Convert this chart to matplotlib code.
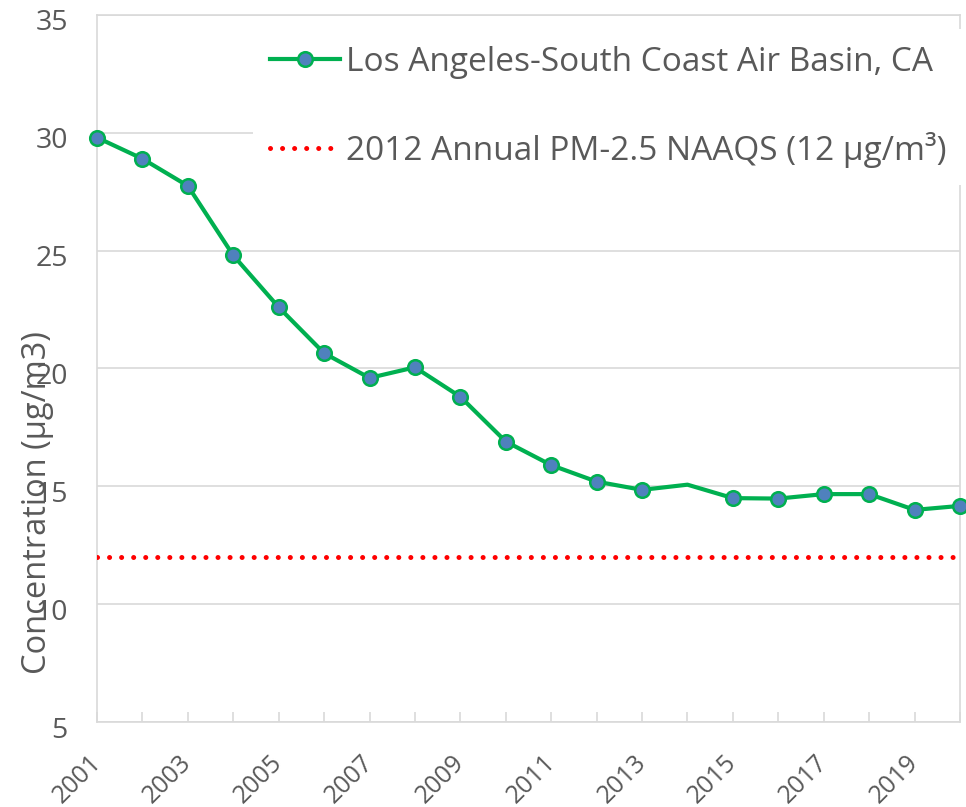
import numpy as np
import matplotlib
matplotlib.use("Agg")
import matplotlib.pyplot as plt
import matplotlib.transforms as mtransforms

plt.rcParams['font.family'] = ['Open Sans', 'DejaVu Sans']

# data
years = list(range(2001, 2021))
conc = [29.8, 28.9, 27.75, 24.8, 22.6, 20.65, 19.6, 20.05, 18.8, 16.9,
        15.9, 15.2, 14.85, 15.07, 14.5, 14.48, 14.67, 14.67, 14.0, 14.17]
no_marker_years = [2014]
naaqs = 12
series_label = 'Los Angeles-South Coast Air Basin, CA'
naaqs_label = '2012 Annual PM-2.5 NAAQS (12 \u00b5g/m\u00b3)'
y_label = 'Concentration (\u00b5g/m3)'
y_ticks = [5, 10, 15, 20, 25, 30, 35]

text_gray = '#595959'
grid_gray = '#D9D9D9'
green = '#00B050'
blue = '#4F81BD'

fig = plt.figure(figsize=(9.66, 8.07), dpi=100)
ax = fig.add_axes([97/966, 1 - 722/807, (960 - 97)/966, (722 - 15)/807])

marks = [i for i, y in enumerate(years) if y not in no_marker_years]
ax.plot(years, conc, color=green, lw=3, marker='o', markersize=10.5,
        markerfacecolor=blue, markeredgecolor=green, markeredgewidth=1.8,
        markevery=marks, clip_on=False, zorder=4, label=series_label)
ax.axhline(naaqs, color='#FF0000', lw=3.6, linestyle=(0, (0.01, 2.4)),
           dash_capstyle='round', zorder=3, label=naaqs_label)

ax.set_xlim(years[0], years[-1])
ax.set_ylim(y_ticks[0], y_ticks[-1])
ax.set_yticks(y_ticks)
ax.set_yticklabels([str(t) for t in y_ticks])
ax.grid(axis='y', color=grid_gray, lw=1.2)
ax.set_axisbelow(True)

for s in ax.spines.values():
    s.set_color(grid_gray)
    s.set_linewidth(1.2)

ax.tick_params(axis='y', length=0, pad=21, labelsize=20.5, labelcolor=text_gray)
yoff = mtransforms.ScaledTranslation(0, -5/100, fig.dpi_scale_trans)
for lab in ax.get_yticklabels():
    lab.set_transform(lab.get_transform() + yoff)

ax.set_xticks(years)
ax.set_xticklabels([str(y) if (y - years[0]) % 2 == 0 else '' for y in years])
ax.tick_params(axis='x', direction='in', length=7, width=1.2, color=grid_gray,
               pad=20, labelsize=18, labelcolor=text_gray)
xoff = mtransforms.ScaledTranslation(9/100, 0, fig.dpi_scale_trans)
for lab in ax.get_xticklabels():
    lab.set_rotation(45)
    lab.set_ha('right')
    lab.set_transform(lab.get_transform() + xoff)

# label sits over the tick numbers, like the original
ax.set_ylabel(y_label, fontsize=23.5, color=text_gray)
ax.yaxis.set_label_coords(-0.05, 0.31)

leg = ax.legend(loc='upper left',
                bbox_to_anchor=(253/966, 1 - 37/807, 1 - 253/966, 0.01),
                bbox_transform=fig.transFigure, borderaxespad=0, mode='expand',
                fontsize=24, frameon=True, fancybox=False, framealpha=1,
                edgecolor='none', facecolor='white', labelspacing=1.6,
                handlelength=2.1, handletextpad=0.2, borderpad=0.5,
                labelcolor=text_gray)
leg.set_zorder(5)

fig.savefig('out.png', dpi=100)
